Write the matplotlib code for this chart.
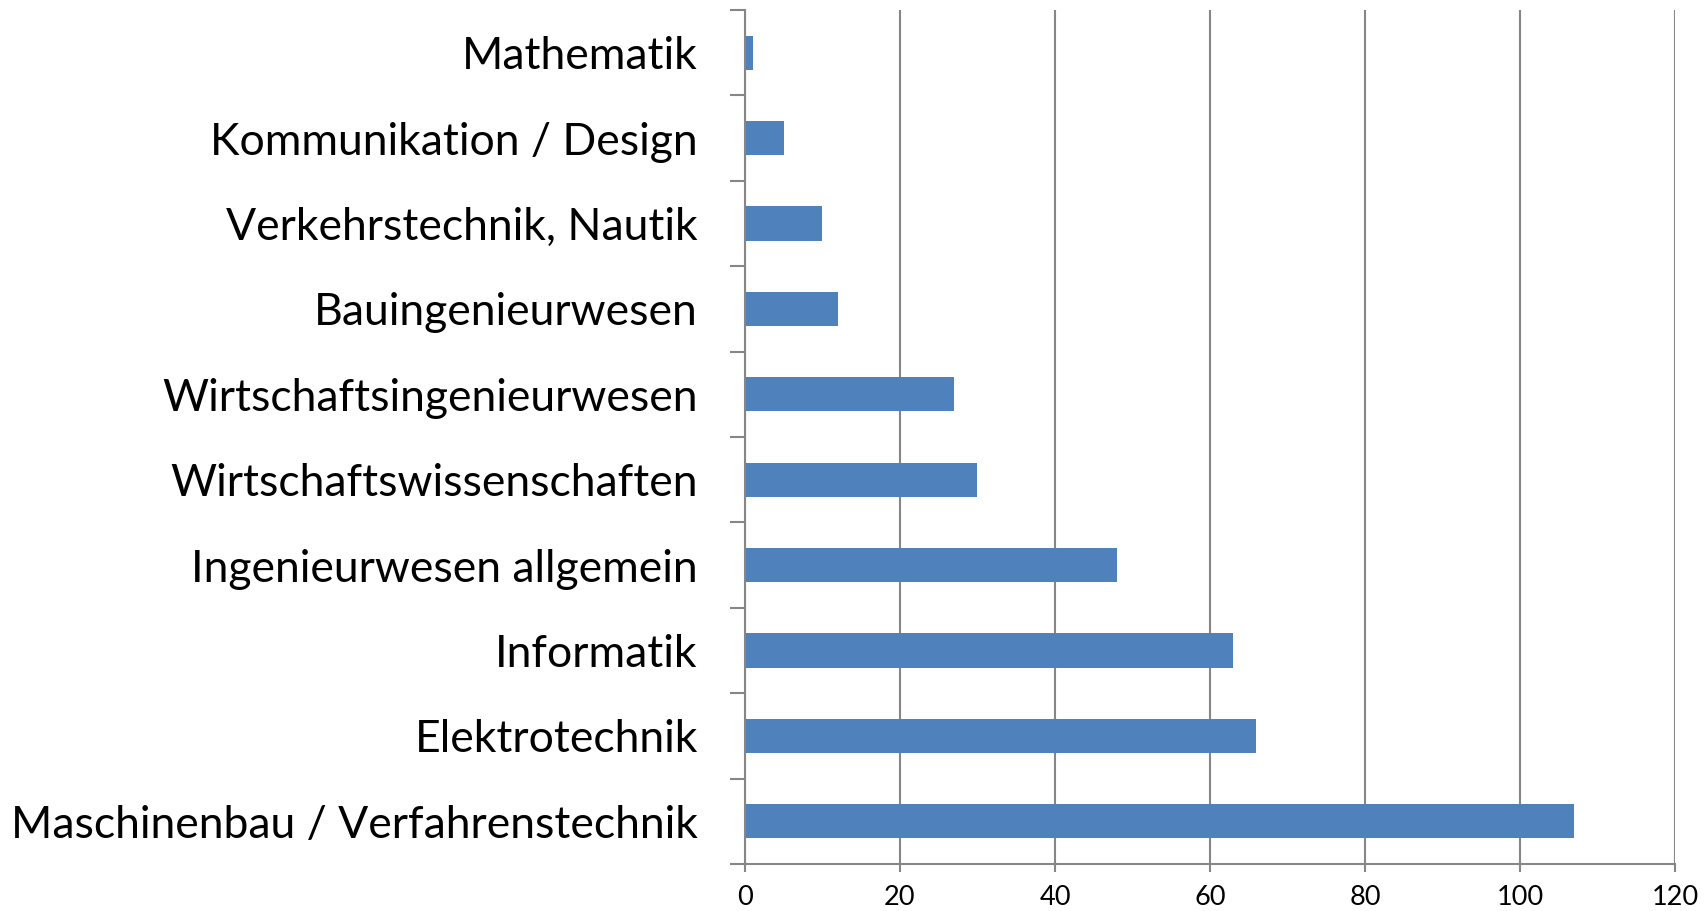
import matplotlib
matplotlib.use("Agg")
import matplotlib.pyplot as plt
import numpy as np

# categories from bottom to top
categories = [
    "Maschinenbau / Verfahrenstechnik",
    "Elektrotechnik",
    "Informatik",
    "Ingenieurwesen allgemein",
    "Wirtschaftswissenschaften",
    "Wirtschaftsingenieurwesen",
    "Bauingenieurwesen",
    "Verkehrstechnik, Nautik",
    "Kommunikation / Design",
    "Mathematik",
]
values = [107, 66, 63, 48, 30, 27, 12, 10, 5, 1]
x_ticks = [0, 20, 40, 60, 80, 100, 120]

gray = "#868686"
plt.rcParams['font.family'] = ['Lato', 'DejaVu Sans']

fig = plt.figure(figsize=(17.06, 9.11), dpi=100)
ax = fig.add_axes([745 / 1706, 47 / 911, 930 / 1706, 854 / 911])

y = np.arange(len(categories))
ax.barh(y, values, height=0.4, color="#4F81BD", zorder=3)

ax.set_xlim(0, 120)
ax.set_ylim(-0.5, len(categories) - 0.5)
ax.set_xticks(x_ticks)
ax.set_xticklabels([str(t) for t in x_ticks], fontsize=19.5)
ax.xaxis.grid(True, color=gray, linewidth=1.5, zorder=0)

# category boundaries as major ticks, labels on minor ticks
ax.set_yticks(np.arange(-0.5, len(categories), 1.0))
ax.set_yticklabels([])
ax.set_yticks(y, minor=True)
ax.set_yticklabels(categories, minor=True, fontsize=32)
ax.tick_params(axis="y", which="major", length=11, width=1.5, color=gray)
ax.tick_params(axis="y", which="minor", length=0, pad=34)
ax.tick_params(axis="x", which="major", length=6, width=1.5, color=gray, pad=9)

for s in ["top", "right"]:
    ax.spines[s].set_visible(False)
for s in ["left", "bottom"]:
    ax.spines[s].set_color(gray)
    ax.spines[s].set_linewidth(1.5)
    ax.spines[s].set_zorder(4)

fig.savefig("out.png", dpi=100)
